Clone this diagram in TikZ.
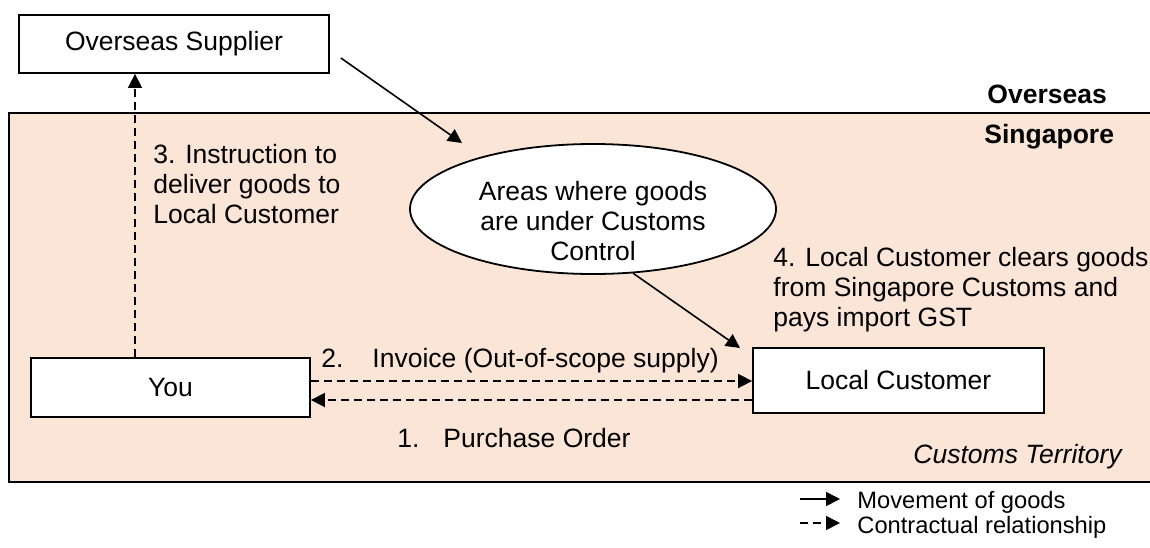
\documentclass[tikz,border=0pt]{standalone}
\usepackage{fontspec}
\setmainfont{Liberation Sans}
\usetikzlibrary{shapes.geometric,arrows.meta}
\definecolor{peach}{RGB}{251,229,214}
\begin{document}
\begin{tikzpicture}[x=0.5pt,y=-0.5pt,
  every node/.style={font=\fontsize{13.25pt}{15pt}\selectfont},
  box/.style={draw, line width=0.9pt, fill=white, inner sep=0pt},
  goods/.style={draw, line width=0.8pt, -{Triangle[length=7pt,width=7pt]}},
  contract/.style={goods, dash pattern=on 4pt off 2.5pt},
  txt/.style={inner sep=0pt, align=left},
  legtxt/.style={inner sep=0pt, font=\fontsize{11.85pt}{12.5pt}\selectfont}]
\useasboundingbox (0,0) rectangle (1150,547);
% territory
\filldraw[fill=peach, draw=black, line width=0.9pt] (9,113) rectangle (1165,482);
% nodes
\node[box, minimum width=155pt, minimum height=29pt] (sup) at (174,44) {Overseas Supplier};
\node[box, minimum width=139.5pt, minimum height=29.5pt] (you) at (170.5,387.5) {You};
\node[box, minimum width=145.5pt, minimum height=32.5pt] (lc) at (898.5,380.5) {Local Customer};
\node[draw, ellipse, line width=0.9pt, fill=white, minimum width=183pt, minimum height=65pt, inner sep=0pt] (ell) at (593,209) {};
\node[txt, align=center, anchor=north] (elltxt) at (593,181) {Areas where goods\\are under Customs\\Control};
% labels
\node[inner sep=0pt, anchor=base west, font=\fontsize{13.25pt}{15pt}\selectfont\bfseries] (ovs) at (987,103) {Overseas};
\node[inner sep=0pt, anchor=base west, font=\fontsize{13.25pt}{15pt}\selectfont\bfseries] (sgp) at (984,143) {Singapore};
\node[txt, anchor=north west] (l3) at (153,144) {3. Instruction to\\deliver goods to\\Local Customer};
\node[txt, anchor=north west] (l4) at (773,247) {4. Local Customer clears goods\\from Singapore Customs and\\pays import GST};
\node[inner sep=0pt, anchor=base west] (l2) at (321,367) {2.\hspace{14.5pt}Invoice (Out-of-scope supply)};
\node[inner sep=0pt, anchor=base west] (l1) at (397,447) {1.\hspace{12pt}Purchase Order};
\node[inner sep=0pt, anchor=base east, font=\fontsize{13.25pt}{15pt}\selectfont\itshape] (ct) at (1122,463) {Customs Territory};
% helper coordinates
\coordinate (xv) at (135,0);
\coordinate (ya) at (0,381);
\coordinate (yb) at (0,400);
\coordinate (gs) at ([shift={(11,14)}]sup.east);
\coordinate (ge) at (462,143);
\coordinate (lcin) at (740,348);
% connectors
\draw[contract] (you.north -| xv) -- (sup.south -| xv);
\draw[goods] (gs) -- (ge);
\draw[goods] (ell.-58) -- (lcin);
\draw[contract] (you.east |- ya) -- (lc.west |- ya);
\draw[contract] (lc.west |- yb) -- (you.east |- yb);
% legend
\coordinate (la1) at (800,499);
\coordinate (la2) at (840,499);
\coordinate (lb1) at (800,523);
\coordinate (lb2) at (840,523);
\draw[goods] (la1) -- (la2);
\draw[contract] (lb1) -- (lb2);
\node[legtxt, anchor=base west] (lg1) at (857,508) {Movement of goods};
\node[legtxt, anchor=base west] (lg2) at (857,533) {Contractual relationship};
\end{tikzpicture}
\end{document}
